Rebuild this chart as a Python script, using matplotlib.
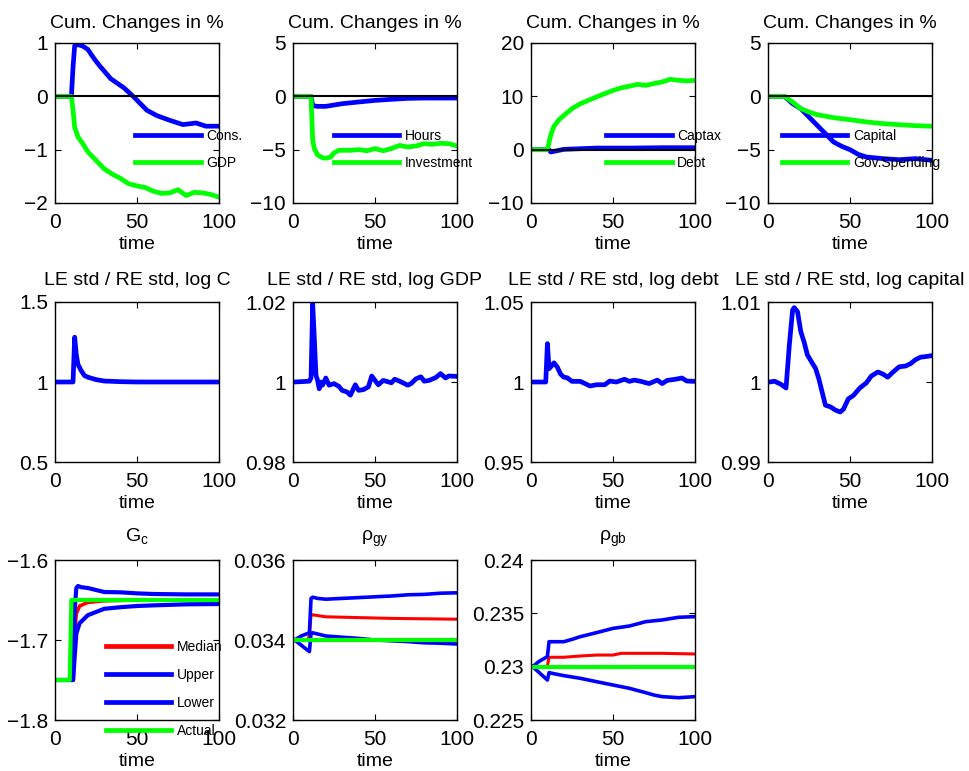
import numpy as np
import matplotlib
matplotlib.use('Agg')
import matplotlib.pyplot as plt

plt.rcParams['font.family'] = ['Liberation Sans', 'DejaVu Sans']
plt.rcParams['mathtext.fontset'] = 'custom'
plt.rcParams['mathtext.rm'] = 'Liberation Sans'
plt.rcParams['mathtext.it'] = 'Liberation Sans:italic'

BLUE = (0, 0, 1)
GREEN = (0, 1, 0)
RED = (1, 0, 0)

# --- row 1: cumulative changes in % ---
cons_t = [1, 10, 11, 12, 14, 17, 20, 24, 27, 34, 42, 48, 56, 62, 70, 78, 86, 92, 100]
cons_v = [0, 0, 0.55, 0.95, 0.97, 0.94, 0.88, 0.70, 0.58, 0.33, 0.16, -0.01, -0.26, -0.36, -0.45, -0.53, -0.50, -0.56, -0.56]
gdp_t = [1, 10, 11, 12, 14, 17, 20, 25, 30, 35, 40, 45, 50, 55, 60, 65, 70, 75, 80, 85, 90, 95, 100]
gdp_v = [0, 0, -0.26, -0.58, -0.76, -0.89, -1.04, -1.20, -1.36, -1.46, -1.54, -1.64, -1.68, -1.71, -1.78,
         -1.82, -1.81, -1.75, -1.86, -1.80, -1.81, -1.84, -1.89]

hours_t = [1, 11, 12, 15, 20, 30, 40, 50, 60, 70, 80, 90, 100]
hours_v = [0, 0, -0.88, -0.94, -0.94, -0.69, -0.53, -0.38, -0.28, -0.19, -0.16, -0.16, -0.16]
inv_t = [1, 11, 12, 13, 15, 18, 20, 23, 25, 28, 35, 40, 45, 50, 55, 60, 65, 70, 75, 80, 85, 90, 95, 100]
inv_v = [0, 0, -4.1, -4.9, -5.5, -5.75, -5.8, -5.7, -5.3, -5.06, -5.06, -5.0, -5.1, -4.9, -5.1, -4.9,
         -4.6, -4.75, -4.65, -4.44, -4.5, -4.4, -4.44, -4.65]

captax_t = [1, 11, 12, 20, 40, 60, 80, 100]
captax_v = [0, 0, -0.44, 0.06, 0.3, 0.3, 0.37, 0.37]
debt_t = [1, 10, 12, 14, 17, 20, 25, 30, 35, 40, 45, 50, 55, 60, 65, 70, 75, 80, 85, 90, 95, 100]
debt_v = [0, 0, 2.7, 4.4, 5.6, 6.4, 7.7, 8.6, 9.25, 9.9, 10.5, 11.1, 11.6, 11.9, 12.25, 12.06, 12.4,
          12.7, 13.2, 13.0, 12.9, 13.0]

capital_t = [1, 10, 15, 20, 25, 30, 35, 40, 45, 50, 55, 60, 70, 80, 90, 100]
capital_v = [0, 0, -0.69, -1.16, -1.94, -2.72, -3.5, -4.28, -4.69, -5.0, -5.44, -5.69, -5.84, -5.94, -5.84, -6.0]
gov_t = [1, 10, 15, 20, 25, 30, 40, 50, 60, 70, 80, 90, 100]
gov_v = [0, 0, -0.53, -1.16, -1.47, -1.72, -2.0, -2.19, -2.4, -2.56, -2.66, -2.75, -2.81]

# --- row 2: LE std / RE std ---
stdc_t = [1, 11, 12, 13, 14, 16, 18, 20, 25, 30, 40, 50, 100]
stdc_v = [1, 1, 1.28, 1.17, 1.11, 1.07, 1.04, 1.03, 1.015, 1.006, 1.002, 1.0, 1.0]

stdgdp_t = [1, 10, 11, 12, 13, 14, 15, 16, 17, 18, 20, 22, 25, 28, 30, 33, 35, 38, 40, 43, 46, 48, 50,
            52, 55, 60, 62, 65, 70, 72, 75, 78, 80, 83, 87, 90, 93, 95, 100]
stdgdp_v = [1.0, 1.0002, 1.001, 1.0196, 1.011, 1.0017, 1.0004, 0.9983, 1.0, 0.9992, 1.001, 0.9992,
            0.9996, 0.9989, 0.9979, 0.9975, 0.9967, 0.9993, 0.9979, 0.9981, 0.9988, 1.0015, 1.0004,
            0.9993, 1.0004, 0.9998, 1.0007, 1.0002, 0.9992, 0.9996, 1.0008, 1.0013, 1.0002, 1.0004,
            1.0011, 1.0021, 1.001, 1.0015, 1.0014]

stddebt_t = [1, 9, 10, 11, 12, 14, 16, 18, 20, 22, 25, 30, 33, 36, 40, 45, 48, 52, 57, 60, 63, 67, 72,
             77, 80, 83, 88, 92, 95, 100]
stddebt_v = [1.0, 1.0, 1.024, 1.0083, 1.0094, 1.012, 1.0094, 1.005, 1.003, 1.0027, 1.0004, 1.0004,
             0.999, 0.9975, 0.9983, 0.9983, 1.0006, 1.0, 1.0017, 1.0004, 1.0012, 1.0004, 0.999, 1.0012,
             0.999, 1.001, 1.0017, 1.0025, 1.0006, 1.0004]

stdcap_t = [1, 4, 8, 11, 13, 15, 16, 18, 20, 22, 24, 26, 29, 31, 33, 35, 38, 41, 44, 46, 49, 52, 56,
            60, 63, 67, 70, 73, 76, 80, 84, 87, 90, 93, 97, 100]
stdcap_v = [1.0, 1.0001, 0.9997, 0.99925, 1.0046, 1.009, 1.0093, 1.0088, 1.0063, 1.005, 1.0034, 1.0027,
            1.0017, 1.0004, 0.99875, 0.9971, 0.9969, 0.9965, 0.99625, 0.9966, 0.9979, 0.9983, 0.99925,
            0.9999, 1.00075, 1.00125, 1.001, 1.0006, 1.0012, 1.0019, 1.002, 1.0023, 1.0028, 1.0031,
            1.0032, 1.0033]

# --- row 3: parameter estimates ---
gc_act_t = [1, 9, 10, 100]
gc_act_v = [-1.75, -1.75, -1.65, -1.65]
gc_up_t = [1, 11, 12, 13, 14, 16, 20, 25, 30, 40, 50, 60, 80, 100]
gc_up_v = [-1.75, -1.75, -1.6625, -1.635, -1.6325, -1.634, -1.635, -1.6375, -1.64, -1.6404, -1.6417,
           -1.6425, -1.643, -1.643]
gc_lo_t = [1, 11, 12, 13, 15, 18, 20, 25, 30, 40, 50, 60, 80, 100]
gc_lo_v = [-1.75, -1.75, -1.721, -1.692, -1.679, -1.673, -1.669, -1.665, -1.661, -1.659, -1.6575,
           -1.6567, -1.6554, -1.655]
gc_med_t = [1, 11, 12, 13, 15, 20, 30, 50, 100]
gc_med_v = [-1.75, -1.75, -1.692, -1.667, -1.6575, -1.653, -1.651, -1.65, -1.65]

gy_act_t = [1, 100]
gy_act_v = [0.034, 0.034]
gy_up_t = [1, 5, 10, 11, 12, 15, 20, 30, 40, 50, 60, 70, 80, 90, 100]
gy_up_v = [0.034, 0.0341, 0.03418, 0.03504, 0.03507, 0.03504, 0.03502, 0.03504, 0.03506, 0.03508,
           0.0351, 0.03513, 0.03514, 0.03517, 0.03518]
gy_lo_t = [1, 10, 11, 12, 20, 30, 40, 50, 60, 70, 80, 90, 100]
gy_lo_v = [0.034, 0.03371, 0.03417, 0.03418, 0.0341, 0.03407, 0.03404, 0.034, 0.03398, 0.03396,
           0.03393, 0.03392, 0.0339]
gy_med_t = [1, 9, 10, 11, 12, 20, 40, 60, 80, 100]
gy_med_v = [0.034, 0.034, 0.03413, 0.03463, 0.03463, 0.03458, 0.03456, 0.03454, 0.03453, 0.03452]

gb_act_t = [1, 100]
gb_act_v = [0.23, 0.23]
gb_up_t = [1, 5, 10, 11, 15, 20, 25, 30, 40, 50, 60, 70, 80, 90, 100]
gb_up_v = [0.23, 0.2305, 0.23094, 0.23234, 0.23234, 0.23234, 0.23256, 0.23281, 0.23319, 0.23359,
           0.23381, 0.23422, 0.23438, 0.23463, 0.23469]
gb_lo_t = [1, 10, 11, 15, 20, 30, 40, 50, 60, 70, 75, 80, 90, 100]
gb_lo_v = [0.23, 0.22875, 0.22944, 0.22931, 0.22916, 0.22891, 0.22859, 0.22828, 0.22797, 0.22756,
           0.22734, 0.22719, 0.22709, 0.22719]
gb_med_t = [1, 9, 10, 11, 20, 30, 40, 50, 55, 60, 80, 100]
gb_med_v = [0.23, 0.23, 0.23006, 0.23088, 0.23088, 0.231, 0.23109, 0.23109, 0.23125, 0.23125, 0.23125,
            0.23119]

# axes layout in pixels (left, top), figure 970x771
W, H = 970, 771
col_left = [55, 293, 531, 768]
row_top = [43, 302, 560]
title_pad = [11, 12, 14]
AX_W, AX_H = 164, 160

fig = plt.figure(figsize=(W / 100, H / 100), dpi=100)


def make_ax(r, c, title, ylim, yticks, yticklabels):
    ax = fig.add_axes([col_left[c] / W, 1 - (row_top[r] + AX_H) / H, AX_W / W, AX_H / H])
    ax.set_xlim(0, 100)
    ax.set_ylim(*ylim)
    ax.set_xticks([0, 50, 100])
    ax.set_yticks(yticks)
    ax.set_yticklabels(yticklabels)
    ax.tick_params(direction='in', top=True, right=True, length=4, labelsize=15)
    ax.tick_params(axis='x', pad=7)
    ax.tick_params(axis='y', pad=5)
    ax.set_title(title, fontsize=14, pad=title_pad[r])
    ax.set_xlabel('time', fontsize=14, labelpad=3)
    for s in ax.spines.values():
        s.set_linewidth(1.0)
    return ax


def add_legend(ax, labels_x, top_y, spacing=0.95):
    return ax.legend(loc='upper left', bbox_to_anchor=(labels_x, top_y), frameon=False, fontsize=10,
                     handlelength=4.7, handletextpad=0.4, labelspacing=spacing, borderpad=0,
                     borderaxespad=0)


LW = 3.4

# row 1
ax = make_ax(0, 0, 'Cum. Changes in %', (-2, 1), [-2, -1, 0, 1], ['\u22122', '\u22121', '0', '1'])
ax.plot(cons_t, cons_v, color=BLUE, lw=LW, label='Cons.')
ax.plot(gdp_t, gdp_v, color=GREEN, lw=LW, label='GDP')
ax.plot([0, 100], [0, 0], color='k', lw=1.5)
add_legend(ax, 0.49, 0.463)

ax = make_ax(0, 1, 'Cum. Changes in %', (-10, 5), [-10, -5, 0, 5], ['\u221210', '\u22125', '0', '5'])
ax.plot(hours_t, hours_v, color=BLUE, lw=LW, label='Hours')
ax.plot(inv_t, inv_v, color=GREEN, lw=LW, label='Investment')
ax.plot([0, 100], [0, 0], color='k', lw=1.5)
add_legend(ax, 0.25, 0.463)

ax = make_ax(0, 2, 'Cum. Changes in %', (-10, 20), [-10, 0, 10, 20], ['\u221210', '0', '10', '20'])
ax.plot(captax_t, captax_v, color=BLUE, lw=LW, label='Captax')
ax.plot(debt_t, debt_v, color=GREEN, lw=LW, label='Debt')
ax.plot([0, 100], [0, 0], color='k', lw=1.5)
add_legend(ax, 0.46, 0.463)

ax = make_ax(0, 3, 'Cum. Changes in %', (-10, 5), [-10, -5, 0, 5], ['\u221210', '\u22125', '0', '5'])
ax.plot(capital_t, capital_v, color=BLUE, lw=LW, label='Capital')
ax.plot(gov_t, gov_v, color=GREEN, lw=LW, label='Gov.Spending')
ax.plot([0, 100], [0, 0], color='k', lw=1.5)
add_legend(ax, 0.085, 0.463)

# row 2
ax = make_ax(1, 0, 'LE std / RE std, log C', (0.5, 1.5), [0.5, 1, 1.5], ['0.5', '1', '1.5'])
ax.plot(stdc_t, stdc_v, color=BLUE, lw=LW)
ax = make_ax(1, 1, 'LE std / RE std, log GDP', (0.98, 1.02), [0.98, 1, 1.02], ['0.98', '1', '1.02'])
ax.plot(stdgdp_t, stdgdp_v, color=BLUE, lw=LW)
ax = make_ax(1, 2, 'LE std / RE std, log debt', (0.95, 1.05), [0.95, 1, 1.05], ['0.95', '1', '1.05'])
ax.plot(stddebt_t, stddebt_v, color=BLUE, lw=LW)
ax = make_ax(1, 3, 'LE std / RE std, log capital', (0.99, 1.01), [0.99, 1, 1.01], ['0.99', '1', '1.01'])
ax.plot(stdcap_t, stdcap_v, color=BLUE, lw=LW)

# row 3
ax = make_ax(2, 0, r'G$_\mathrm{c}$', (-1.8, -1.6), [-1.8, -1.7, -1.6], ['\u22121.8', '\u22121.7', '\u22121.6'])
ax.plot(gc_med_t, gc_med_v, color=RED, lw=2.6, label='Median')
ax.plot(gc_up_t, gc_up_v, color=BLUE, lw=3.0, label='Upper')
ax.plot(gc_lo_t, gc_lo_v, color=BLUE, lw=3.0, label='Lower')
ax.plot(gc_act_t, gc_act_v, color=GREEN, lw=3.0, label='Actual')
leg = add_legend(ax, 0.31, 0.50, spacing=1.0)
for h in leg.get_lines():
    h.set_linewidth(3.4)

ax = make_ax(2, 1, '\u03c1$_\\mathrm{gy}$', (0.032, 0.036), [0.032, 0.034, 0.036], ['0.032', '0.034', '0.036'])
ax.plot(gy_med_t, gy_med_v, color=RED, lw=2.2)
ax.plot(gy_up_t, gy_up_v, color=BLUE, lw=2.6)
ax.plot(gy_lo_t, gy_lo_v, color=BLUE, lw=2.6)
ax.plot(gy_act_t, gy_act_v, color=GREEN, lw=3.0)

ax = make_ax(2, 2, '\u03c1$_\\mathrm{gb}$', (0.225, 0.24), [0.225, 0.23, 0.235, 0.24],
             ['0.225', '0.23', '0.235', '0.24'])
ax.plot(gb_med_t, gb_med_v, color=RED, lw=2.2)
ax.plot(gb_up_t, gb_up_v, color=BLUE, lw=2.6)
ax.plot(gb_lo_t, gb_lo_v, color=BLUE, lw=2.6)
ax.plot(gb_act_t, gb_act_v, color=GREEN, lw=3.0)

fig.savefig('out.png', dpi=100)
